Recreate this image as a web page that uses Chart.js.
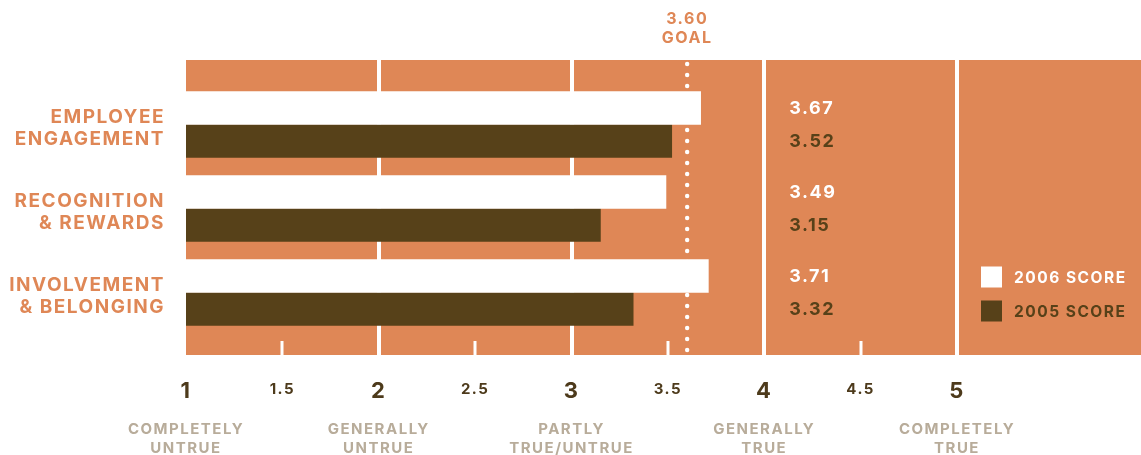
<!DOCTYPE html>
<html>
<head>
<meta charset="utf-8">
<script src="https://cdn.jsdelivr.net/npm/chart.js@4.4.1/dist/chart.umd.min.js"></script>
<style>
  html, body { margin: 0; padding: 0; background: #fff; }
  canvas { display: block; }
</style>
</head>
<body>
<canvas id="chart" width="1141" height="455"></canvas>
<script>
const categories = [['EMPLOYEE', 'ENGAGEMENT'], ['RECOGNITION', '& REWARDS'], ['INVOLVEMENT', '& BELONGING']];
const score2006 = [3.67, 3.49, 3.71];
const score2005 = [3.52, 3.15, 3.32];
const seriesLabels = ['2006 SCORE', '2005 SCORE'];
const goal = 3.60;
const scaleTicks = [1, 1.5, 2, 2.5, 3, 3.5, 4, 4.5, 5];
const scaleNames = [['COMPLETELY', 'UNTRUE'], ['GENERALLY', 'UNTRUE'], ['PARTLY', 'TRUE/UNTRUE'], ['GENERALLY', 'TRUE'], ['COMPLETELY', 'TRUE']];

const ORANGE = '#df8756';
const DARK = '#574119';
const TICK = '#4d3a1b';
const GREY = '#b8ac9a';
const FONT = "Inter, 'Noto Sans', sans-serif";
const TRACK = '1.5px';

Chart.defaults.font.family = FONT;

const font = (size, weight = 'bold') => `${weight} ${size}px ${FONT}`;

// orange panel, half ticks, goal line, value labels, legend
const decorations = {
  id: 'decorations',
  beforeUpdate(chart) { chart.ctx.letterSpacing = TRACK; },
  beforeLayout(chart) { chart.ctx.letterSpacing = TRACK; },
  beforeDraw(chart) {
    const { ctx, chartArea: a } = chart;
    ctx.letterSpacing = TRACK;
    ctx.save();
    ctx.fillStyle = ORANGE;
    ctx.fillRect(a.left, a.top, a.right - a.left, a.bottom - a.top);
    ctx.restore();
  },
  beforeDatasetsDraw(chart) {
    const { ctx, chartArea: a, scales: { x } } = chart;
    ctx.save();
    ctx.fillStyle = '#fff';
    scaleTicks.filter(v => !Number.isInteger(v)).forEach(v => {
      const px = Math.round(x.getPixelForValue(v));
      ctx.fillRect(px - 1.5, a.bottom - 14, 3, 14);
    });
    ctx.restore();
  },
  afterDatasetsDraw(chart) {
    const { ctx, chartArea: a, scales: { x } } = chart;
    ctx.save();
    ctx.letterSpacing = TRACK;

    // goal
    const gx = x.getPixelForValue(goal);
    ctx.fillStyle = '#fff';
    for (let y = a.top + 4; y < a.bottom; y += 11) {
      ctx.beginPath();
      ctx.arc(gx, y, 2.2, 0, Math.PI * 2);
      ctx.fill();
    }
    ctx.fillStyle = ORANGE;
    ctx.font = font(16);
    ctx.textAlign = 'center';
    ctx.textBaseline = 'middle';
    ctx.fillText(goal.toFixed(2), gx, 19);
    ctx.fillText('GOAL', gx, 38);

    // value labels
    ctx.font = font(18);
    ctx.textAlign = 'left';
    const lx = x.getPixelForValue(4) + 25;
    chart.data.datasets.forEach((ds, i) => {
      const meta = chart.getDatasetMeta(i);
      ctx.fillStyle = ds.backgroundColor;
      meta.data.forEach((bar, j) => {
        ctx.fillText(ds.data[j].x.toFixed(2), lx, bar.y + 1);
      });
    });

    // legend
    ctx.font = font(15.5);
    const sx = a.right - 160;
    chart.data.datasets.forEach((ds, i) => {
      const cy = 277 + i * 34;
      ctx.fillStyle = ds.backgroundColor;
      ctx.fillRect(sx, cy - 10.5, 21, 21);
      ctx.fillText(ds.label, sx + 33, cy + 1);
    });
    ctx.restore();
  }
};

new Chart(document.getElementById('chart'), {
  type: 'bar',
  data: {
    datasets: [
      {
        label: seriesLabels[0],
        data: score2006.map((v, i) => ({ x: v, y: i })),
        backgroundColor: '#ffffff',
        barThickness: 33
      },
      {
        label: seriesLabels[1],
        data: score2005.map((v, i) => ({ x: v, y: i })),
        backgroundColor: DARK,
        barThickness: 33
      }
    ]
  },
  options: {
    indexAxis: 'y',
    responsive: false,
    animation: false,
    layout: { padding: { top: 60, right: 0, bottom: 0, left: 0 } },
    plugins: { legend: { display: false }, tooltip: { enabled: false } },
    scales: {
      x: {
        type: 'linear',
        position: 'bottom',
        weight: 0,
        min: 1,
        max: 5.9546,
        afterBuildTicks: s => { s.ticks = scaleTicks.map(v => ({ value: v })); },
        afterFit: s => { s.height = 48; },
        grid: {
          drawTicks: false,
          lineWidth: 4,
          color: c => (c.tick && Number.isInteger(c.tick.value) && c.tick.value > 1) ? '#ffffff' : 'rgba(0,0,0,0)'
        },
        border: { display: false },
        ticks: {
          autoSkip: false,
          maxRotation: 0,
          padding: 25,
          color: TICK,
          font: c => (c.tick && Number.isInteger(c.tick.value))
            ? { size: 22, weight: 'bold', lineHeight: 1 }
            : { size: 15, weight: 'bold', lineHeight: 1.2 },
          callback: v => String(v)
        }
      },
      x2: {
        type: 'linear',
        position: 'bottom',
        weight: 1,
        min: 1,
        max: 5.9546,
        afterBuildTicks: s => { s.ticks = scaleNames.map((_, i) => ({ value: i + 1 })); },
        afterFit: s => { s.height = 52; },
        grid: { display: false, drawTicks: false },
        border: { display: false },
        ticks: {
          autoSkip: false,
          maxRotation: 0,
          padding: 17,
          color: GREY,
          font: { size: 15, weight: 'bold', lineHeight: 1.28 },
          callback: v => scaleNames[Math.round(v) - 1]
        }
      },
      y: {
        type: 'linear',
        position: 'left',
        reverse: true,
        offset: false,
        min: -0.768,
        max: 2.744,
        afterBuildTicks: s => { s.ticks = categories.map((_, i) => ({ value: i + 0.05 })); },
        afterFit: s => { s.width = 186; },
        grid: { display: false, drawTicks: false },
        border: { display: false },
        ticks: {
          autoSkip: false,
          padding: 21,
          color: ORANGE,
          font: { size: 19, weight: 'bold', lineHeight: 1.16 },
          callback: v => categories[Math.round(v)]
        }
      }
    }
  },
  plugins: [decorations]
});
</script>
</body>
</html>
